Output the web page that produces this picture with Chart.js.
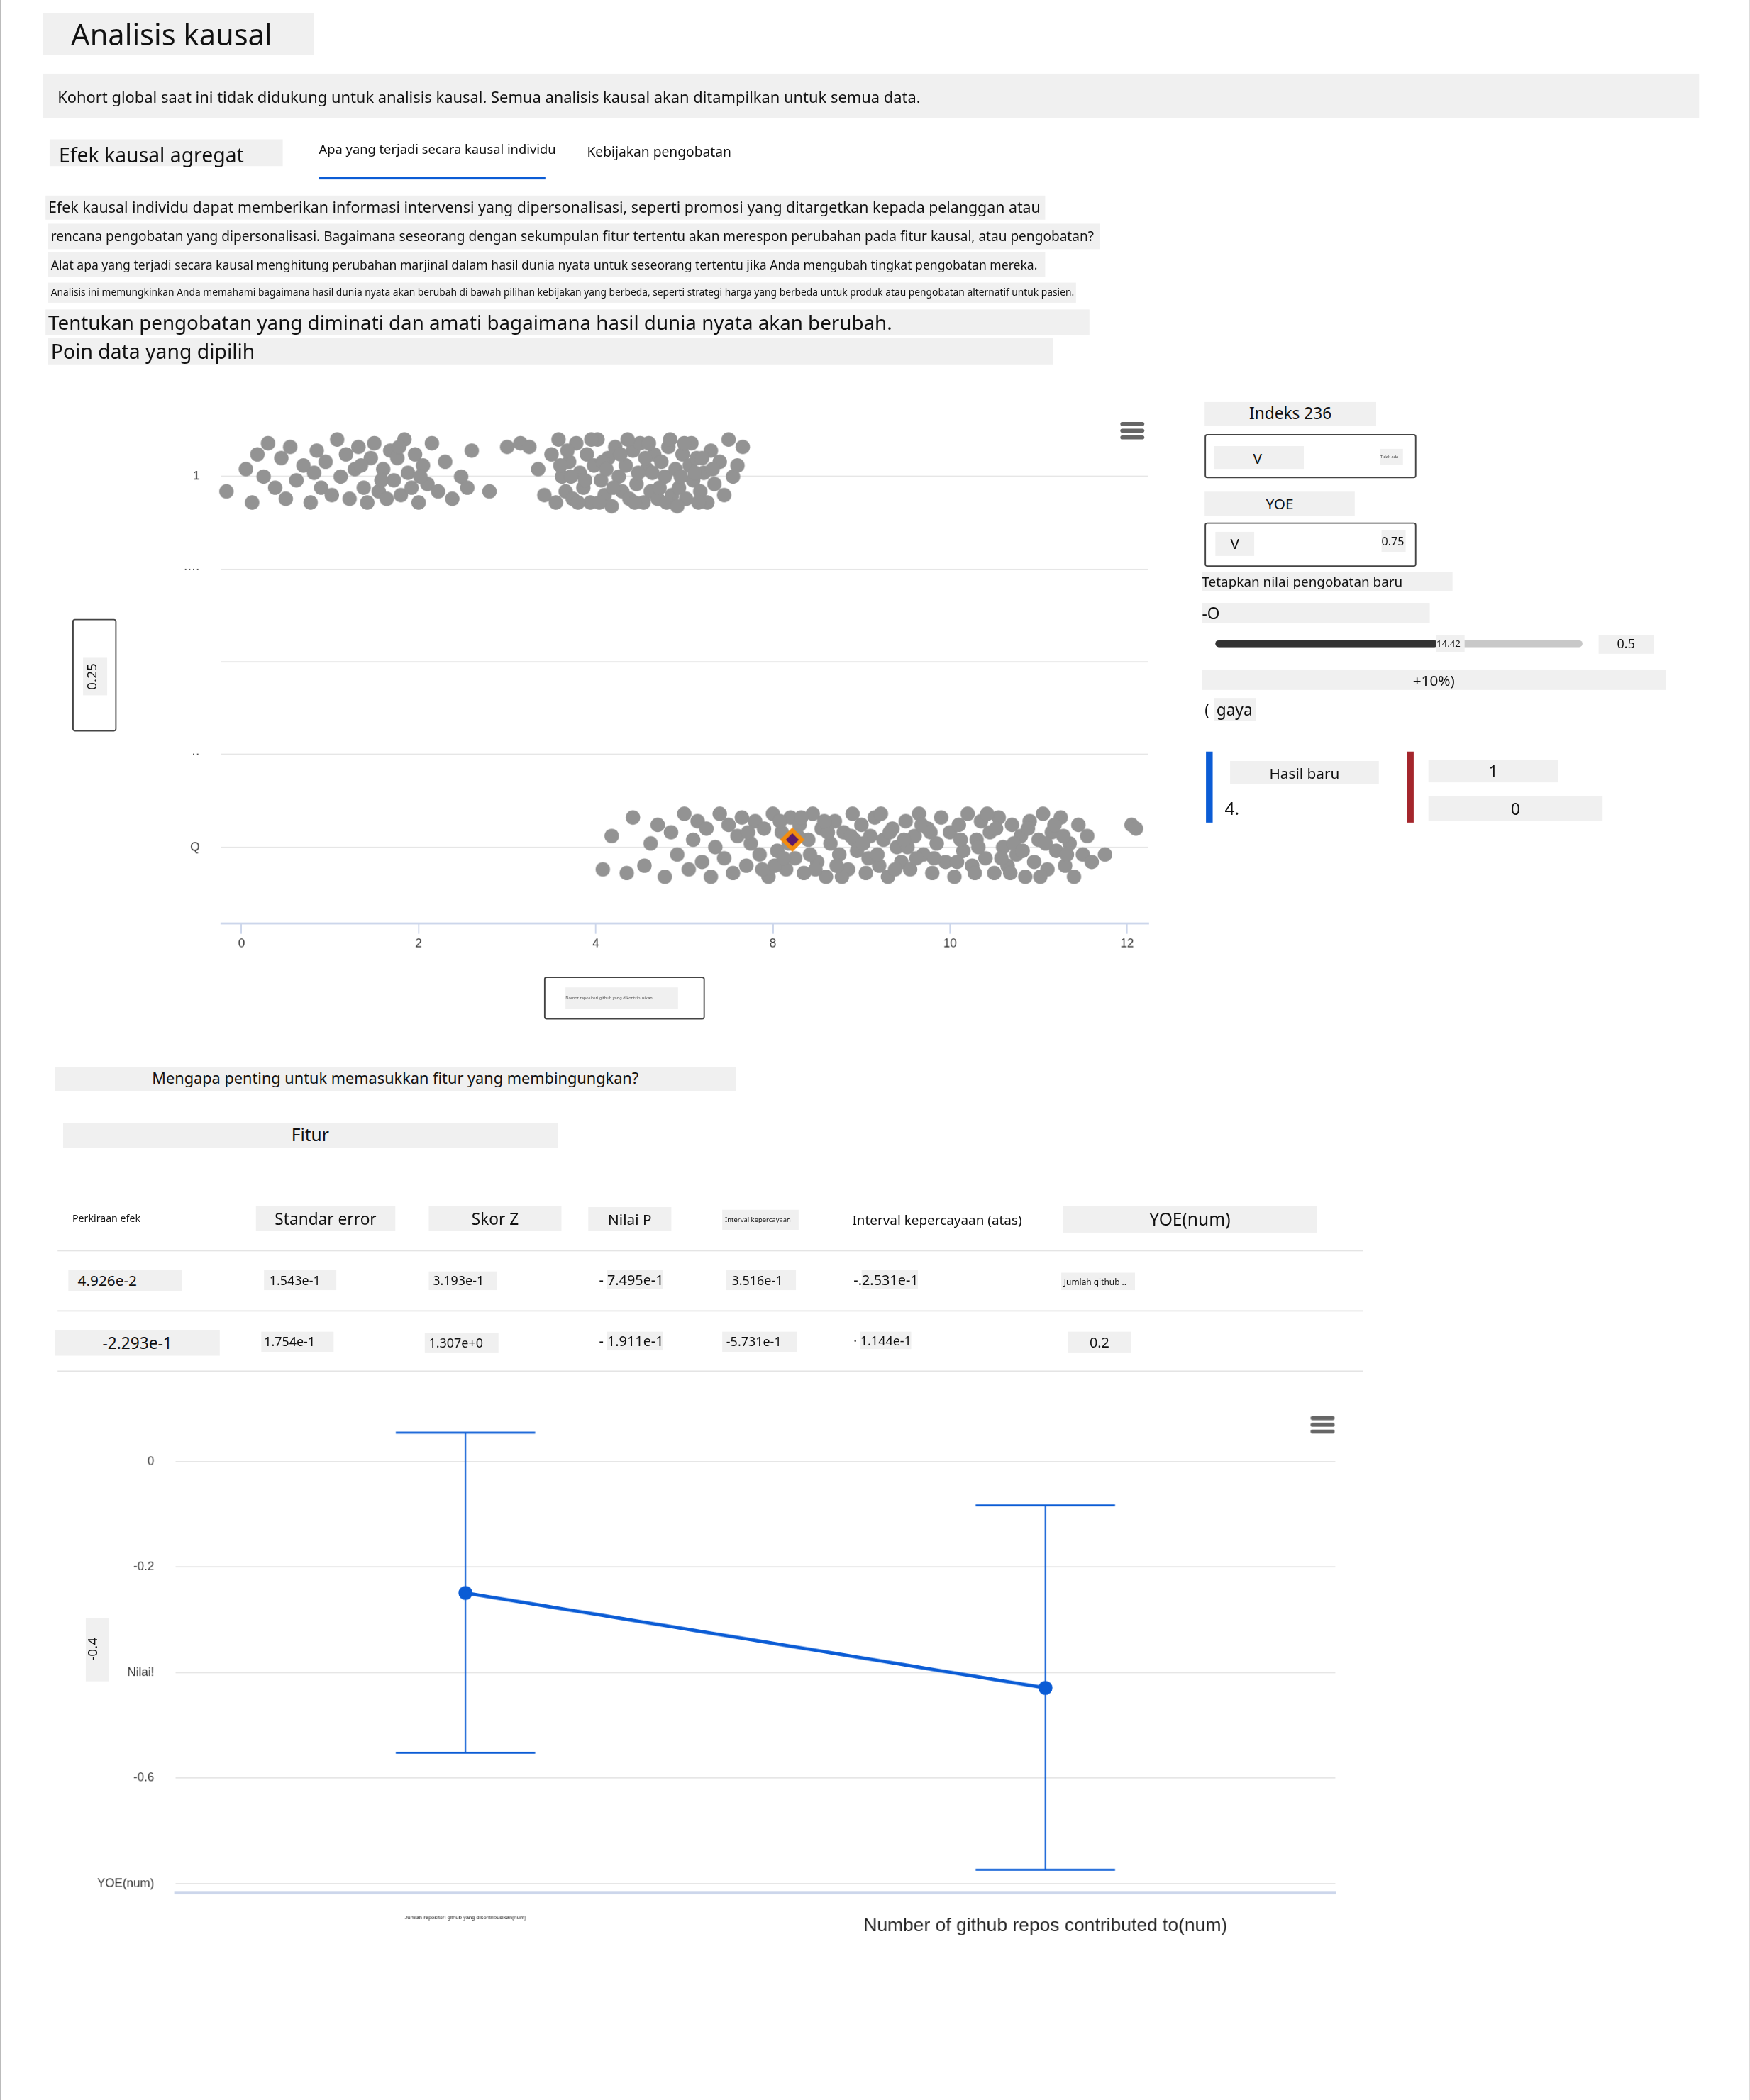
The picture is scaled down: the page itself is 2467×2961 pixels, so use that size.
<!DOCTYPE html>
<html><head><meta charset="utf-8">
<script src="https://cdn.jsdelivr.net/npm/chart.js@4/dist/chart.umd.min.js"></script>
<style>
html,body{margin:0;padding:0;background:#fff;}
body{width:2467px;height:2961px;overflow:hidden;font-family:"Noto Sans","Open Sans",sans-serif;color:#111;}
#page{position:absolute;left:0;top:0;width:1306px;height:1568px;transform:scale(1.889);transform-origin:0 0;border-left:1px solid #bbb;border-right:1px solid #ddd;box-sizing:border-box;}
.a{position:absolute;white-space:nowrap;}
.g{background:#f0f0f0;}
.c{text-align:center;}
.box{position:absolute;border:1.5px solid #444;border-radius:2px;box-sizing:border-box;}
.hb{position:absolute;width:18px;height:3px;background:#666;border-radius:2px;}
.line{position:absolute;height:1px;background:#e4e4e4;}
</style></head><body>
<div id="page">
  <div class="a g" style="left:31px;top:10px;width:202px;height:31px;font-size:22px;line-height:31px;padding-left:21px;box-sizing:border-box">Analisis kausal</div>
  <div class="a g" style="left:31px;top:55px;width:1236px;height:33px;font-size:11.6px;line-height:35px;padding-left:11px;box-sizing:border-box">Kohort global saat ini tidak didukung untuk analisis kausal. Semua analisis kausal akan ditampilkan untuk semua data.</div>

  <div class="a g" style="left:36px;top:104px;width:174px;height:20px;font-size:15px;line-height:22px;padding-left:7px;box-sizing:border-box">Efek kausal agregat</div>
  <div class="a" style="left:237px;top:105px;font-size:9.7px">Apa yang terjadi secara kausal individu</div>
  <div class="a" style="left:237px;top:132px;width:169px;height:2px;background:#0b5cd5"></div>
  <div class="a" style="left:437px;top:106px;font-size:10.2px">Kebijakan pengobatan</div>

  <div class="a g" style="left:33px;top:146px;width:744px;height:18px;font-size:11.3px;line-height:18px;padding-left:2px">Efek kausal individu dapat memberikan informasi intervensi yang dipersonalisasi, seperti promosi yang ditargetkan kepada pelanggan atau</div>
  <div class="a g" style="left:35px;top:167px;width:783px;height:19px;font-size:10.1px;line-height:19px;padding-left:2px">rencana pengobatan yang dipersonalisasi. Bagaimana seseorang dengan sekumpulan fitur tertentu akan merespon perubahan pada fitur kausal, atau pengobatan?</div>
  <div class="a g" style="left:35px;top:188px;width:742px;height:19px;font-size:9.3px;line-height:19px;padding-left:2px">Alat apa yang terjadi secara kausal menghitung perubahan marjinal dalam hasil dunia nyata untuk seseorang tertentu jika Anda mengubah tingkat pengobatan mereka.</div>
  <div class="a g" style="left:35px;top:211px;width:765px;height:15px;font-size:7.3px;line-height:15px;padding-left:2px">Analisis ini memungkinkan Anda memahami bagaimana hasil dunia nyata akan berubah di bawah pilihan kebijakan yang berbeda, seperti strategi harga yang berbeda untuk produk atau pengobatan alternatif untuk pasien.</div>
  <div class="a g" style="left:33px;top:231px;width:777px;height:19px;font-size:14.7px;line-height:19px;padding-left:2px">Tentukan pengobatan yang diminati dan amati bagaimana hasil dunia nyata akan berubah.</div>
  <div class="a g" style="left:35px;top:252px;width:748px;height:20px;font-size:15px;line-height:20px;padding-left:2px">Poin data yang dipilih</div>

  <!-- scatter -->
  <div class="a" style="left:100px;top:279px;width:766px;height:435px"><canvas id="scatter"></canvas></div>
  <div class="hb" style="left:835px;top:315px"></div><div class="hb" style="left:835px;top:320px"></div><div class="hb" style="left:835px;top:325px"></div>
  <div class="box" style="left:53px;top:462px;width:33px;height:84px"></div>
  <div class="a g" style="left:61px;top:491px;width:18px;height:28px"><div style="transform:rotate(-90deg);font-size:10px;position:absolute;left:-4px;top:7px">0.25</div></div>
  <div class="box" style="left:405px;top:729px;width:120px;height:32px"></div>
  <div class="a g" style="left:421px;top:737px;width:84px;height:16px;font-size:3px;line-height:16px;color:#555;overflow:hidden">Nomor repositori github yang dikontribusikan</div>

  <!-- right panel -->
  <div class="a g c" style="left:898px;top:300px;width:128px;height:18px;font-size:12px;line-height:18px">Indeks 236</div>
  <div class="box" style="left:898px;top:324px;width:158px;height:33px"></div>
  <div class="a g c" style="left:905px;top:333px;width:67px;height:17px;font-size:11px;line-height:17px;padding-right:2px;box-sizing:border-box">V</div>
  <div class="a g" style="left:1029px;top:335px;width:17px;height:12px;font-size:3px;line-height:12px;color:#444;overflow:hidden">Tidak ada</div>
  <div class="a g c" style="left:898px;top:367px;width:112px;height:18px;font-size:11px;line-height:18px">YOE</div>
  <div class="box" style="left:898px;top:390px;width:158px;height:33px"></div>
  <div class="a g c" style="left:906px;top:397px;width:29px;height:18px;font-size:11px;line-height:18px">V</div>
  <div class="a g" style="left:1030px;top:396px;width:18px;height:16px;font-size:8.5px;line-height:16px">0.75</div>
  <div class="a g" style="left:896px;top:427px;width:187px;height:14px;font-size:10px;line-height:14px">Tetapkan nilai pengobatan baru</div>
  <div class="a g" style="left:896px;top:450px;width:170px;height:15px;font-size:12px;line-height:15px">-O</div>
  <div class="a" style="left:906px;top:478px;width:274px;height:5px;background:#c8c8c8;border-radius:3px"></div>
  <div class="a" style="left:906px;top:478px;width:166px;height:5px;background:#333;border-radius:3px"></div>
  <div class="a g" style="left:1071px;top:474px;width:21px;height:13px;font-size:7px;line-height:13px">14.42</div>
  <div class="a g c" style="left:1192px;top:474px;width:41px;height:14px;font-size:9.5px;line-height:14px">0.5</div>
  <div class="a g c" style="left:896px;top:500px;width:346px;height:15px;font-size:11px;line-height:15px">+10%)</div>
  <div class="a" style="left:898px;top:522px;font-size:12px;line-height:16px">( <span class="g" style="padding:0 2px">gaya</span></div>
  <div class="a" style="left:899px;top:561px;width:5px;height:53px;background:#0b5cd5"></div>
  <div class="a g c" style="left:917px;top:568px;width:111px;height:17px;font-size:11px;line-height:17px">Hasil baru</div>
  <div class="a" style="left:913px;top:594px;font-size:13px">4.</div>
  <div class="a" style="left:1049px;top:561px;width:5px;height:53px;background:#a4262c"></div>
  <div class="a g c" style="left:1065px;top:567px;width:97px;height:17px;font-size:12px;line-height:17px">1</div>
  <div class="a g c" style="left:1065px;top:594px;width:130px;height:19px;font-size:12px;line-height:19px">0</div>

  <!-- table -->
  <div class="a g c" style="left:40px;top:796px;width:508px;height:18px;font-size:11.5px;line-height:18px">Mengapa penting untuk memasukkan fitur yang membingungkan?</div>
  <div class="a g c" style="left:46px;top:838px;width:369px;height:19px;font-size:13px;line-height:19px">Fitur</div>
  <div class="a" style="left:53px;top:904px;font-size:7.5px">Perkiraan efek</div>
  <div class="a g c" style="left:190px;top:900px;width:104px;height:19px;font-size:12px;line-height:19px">Standar error</div>
  <div class="a g c" style="left:319px;top:900px;width:99px;height:19px;font-size:12px;line-height:19px">Skor Z</div>
  <div class="a g c" style="left:438px;top:901px;width:62px;height:18px;font-size:11px;line-height:18px">Nilai P</div>
  <div class="a g" style="left:538px;top:903px;width:55px;height:15px;font-size:5px;line-height:15px;padding-left:2px">Interval kepercayaan</div>
  <div class="a" style="left:635px;top:903px;font-size:10px">Interval kepercayaan (atas)</div>
  <div class="a g c" style="left:792px;top:900px;width:190px;height:20px;font-size:13px;line-height:20px">YOE(num)</div>
  <div class="line" style="left:42px;top:933px;width:974px"></div>
  <div class="line" style="left:42px;top:978px;width:974px"></div>
  <div class="line" style="left:42px;top:1023px;width:974px"></div>

  <div class="a g" style="left:50px;top:948px;width:85px;height:16px;font-size:11px;line-height:16px;padding-left:7px;box-sizing:border-box">4.926e-2</div>
  <div class="a g" style="left:196px;top:948px;width:50px;height:15px;font-size:9.5px;line-height:15px;padding-left:4px">1.543e-1</div>
  <div class="a g" style="left:319px;top:949px;width:48px;height:14px;font-size:9.5px;line-height:14px;padding-left:3px">3.193e-1</div>
  <div class="a" style="left:446px;top:948px;font-size:10.5px">- <span class="g">7.495e-1</span></div>
  <div class="a g" style="left:541px;top:948px;width:48px;height:15px;font-size:9.5px;line-height:15px;padding-left:4px">3.516e-1</div>
  <div class="a" style="left:636px;top:948px;font-size:10.5px">-.<span class="g">2.531e-1</span></div>
  <div class="a g" style="left:791px;top:950px;width:53px;height:13px;font-size:6.3px;line-height:13px;padding-left:2px">Jumlah github ..</div>

  <div class="a g c" style="left:40px;top:993px;width:123px;height:19px;font-size:12px;line-height:19px">-2.293e-1</div>
  <div class="a g" style="left:194px;top:994px;width:52px;height:15px;font-size:9.5px;line-height:15px;padding-left:2px">1.754e-1</div>
  <div class="a g" style="left:316px;top:995px;width:52px;height:15px;font-size:9.5px;line-height:15px;padding-left:3px">1.307e+0</div>
  <div class="a" style="left:446px;top:994px;font-size:10.5px">- <span class="g">1.911e-1</span></div>
  <div class="a g" style="left:538px;top:994px;width:53px;height:15px;font-size:9.5px;line-height:15px;padding-left:3px">-5.731e-1</div>
  <div class="a" style="left:636px;top:994px;font-size:9.5px">· <span class="g">1.144e-1</span></div>
  <div class="a g c" style="left:796px;top:994px;width:47px;height:16px;font-size:10.5px;line-height:16px">0.2</div>

  <!-- error bar chart -->
  <div class="a" style="left:70px;top:1031px;width:932px;height:422px"><canvas id="effects"></canvas></div>
  <div class="hb" style="left:977px;top:1057px"></div><div class="hb" style="left:977px;top:1062px"></div><div class="hb" style="left:977px;top:1067px"></div>
  <div class="a g" style="left:63px;top:1208px;width:17px;height:47px"><div style="transform:rotate(-90deg);font-size:10px;position:absolute;left:-4px;top:16px">-0.4</div></div>
</div>
<script>
// ── SCATTER DATA (treatment value vs outcome) ─────────────
const topCluster = [
  [-0.17,0.96],[0.05,1.02],[0.12,0.93],[0.18,1.06],[0.25,1.0],[0.3,1.09],[0.38,0.97],[0.45,1.05],[0.5,0.94],[0.55,1.08],
  [0.62,0.99],[0.7,1.03],[0.78,0.93],[0.85,1.07],[0.9,0.97],[0.95,1.04],[1.02,0.95],[1.08,1.1],[1.12,1.0],[1.18,1.06],
  [1.22,0.94],[1.28,1.02],[1.32,1.08],[1.38,0.97],[1.42,0.93],[1.46,1.05],[1.5,1.09],[1.55,0.96],[1.6,1.02],[1.64,0.94],
  [1.68,1.07],[1.72,0.99],[1.76,1.05],[1.8,0.95],[1.84,1.1],[1.88,1.01],[1.92,0.97],[1.96,1.06],[2.0,0.93],[2.05,1.03],
  [2.1,0.98],[2.15,1.09],[2.22,0.96],[2.3,1.04],[2.38,0.94],[2.48,1.0],[2.55,0.97],[2.6,1.07],[2.8,0.96],[3.0,1.08],
  [3.15,1.09],[3.25,1.08],[3.35,1.02],[3.42,0.95],[3.5,1.06],[3.55,0.93],[3.58,1.1],[3.62,1.0],[3.66,0.96],[3.7,1.04],
  [3.74,0.94],[3.78,1.09],[3.82,1.01],[3.86,0.97],[3.9,1.06],[3.94,0.93],[3.98,1.03],[4.02,1.1],[4.06,0.99],[4.1,0.95],
  [4.14,1.05],[4.18,0.92],[4.22,1.08],[4.26,1.0],[4.3,0.96],[4.34,1.03],[4.38,0.94],[4.42,1.07],[4.46,0.98],[4.5,1.09],
  [4.54,0.93],[4.58,1.02],[4.62,0.96],[4.66,1.06],[4.7,0.94],[4.74,1.04],[4.78,1.0],[4.82,1.08],[4.86,0.95],[4.9,1.02],
  [4.94,0.97],[4.98,1.06],[5.02,0.94],[5.06,1.03],[5.1,0.99],[5.14,1.05],[5.18,0.96],[5.22,1.01],[5.26,0.93],[5.3,1.07],
  [5.34,0.98],[5.4,1.04],[5.45,0.95],[5.5,1.1],[5.55,1.0],[5.6,1.03],[5.66,1.08],[3.68,1.07],[3.8,0.93],[3.95,1.1],
  [4.08,1.04],[4.2,0.97],[4.36,1.1],[4.48,1.01],[4.6,1.09],[4.72,0.97],[4.84,1.1],[4.96,1.0],[5.08,1.09],[5.2,1.05],
  [3.72,1.0],[3.88,0.99],[4.04,0.93],[4.28,1.06],[4.44,0.93],[4.64,1.01],[4.8,0.93],[5.0,1.09],[5.16,0.93],[5.32,1.02],
  [1.35,1.03],[1.58,0.99],[1.78,1.08],[2.02,1.0],[0.82,1.01],[3.6,1.03],[4.12,1.02],[4.56,1.05],[4.92,0.92],[5.12,1.01]
];
const bottomCluster = [
  [4.08,-0.06],[4.18,0.03],[4.35,-0.07],[4.42,0.08],[4.55,-0.05],[4.62,0.01],[4.7,0.06],[4.78,-0.08],[4.85,0.04],[4.92,-0.02],
  [5.0,0.09],[5.05,-0.06],[5.1,0.02],[5.15,0.07],[5.2,-0.04],[5.25,0.05],[5.3,-0.08],[5.35,0.0],[5.4,0.09],[5.45,-0.03],
  [5.5,0.06],[5.55,-0.07],[5.6,0.03],[5.65,0.08],[5.7,-0.05],[5.75,0.01],[5.8,0.07],[5.85,-0.02],[5.9,0.05],[5.95,-0.08],
  [6.0,0.09],[6.05,-0.01],[6.1,0.04],[6.15,-0.06],[6.2,0.08],[6.25,-0.03],[6.3,0.06],[6.35,-0.07],[6.4,0.02],[6.45,0.09],
  [6.5,-0.04],[6.55,0.05],[6.6,-0.08],[6.65,0.01],[6.7,0.07],[6.75,-0.02],[6.8,0.04],[6.85,-0.06],[6.9,0.09],[6.95,-0.01],
  [7.0,0.06],[7.05,-0.07],[7.1,0.03],[7.15,0.08],[7.2,-0.05],[7.25,0.02],[7.3,-0.08],[7.35,0.05],[7.4,0.0],[7.45,-0.04],
  [7.5,0.07],[7.55,-0.06],[7.6,0.03],[7.65,0.09],[7.7,-0.02],[7.75,0.05],[7.8,-0.07],[7.85,0.01],[7.9,0.08],[7.95,-0.04],
  [8.0,0.04],[8.05,-0.08],[8.1,0.06],[8.15,-0.01],[8.2,0.09],[8.25,-0.05],[8.3,0.02],[8.35,0.07],[8.4,-0.03],[8.45,0.04],
  [8.5,-0.07],[8.55,0.08],[8.6,0.0],[8.65,-0.05],[8.7,0.06],[8.75,-0.02],[8.8,0.03],[8.85,-0.08],[8.9,0.07],[8.95,-0.04],
  [9.0,0.02],[9.05,0.09],[9.1,-0.06],[9.15,0.04],[9.2,-0.01],[9.25,0.08],[9.3,-0.05],[9.35,0.01],[9.4,-0.08],[9.5,-0.02],
  [9.55,0.03],[9.6,-0.04],[9.75,-0.02],[10.05,0.06],[10.1,0.05],[6.02,-0.05],[6.18,0.01],[6.32,0.08],[6.48,-0.06],[6.62,0.04],
  [6.78,-0.08],[6.92,0.02],[7.08,-0.03],[7.22,0.09],[7.38,-0.06],[7.52,0.0],[7.68,0.06],[7.82,-0.03],[8.12,0.02],[8.28,-0.07],
  [8.42,0.09],[8.58,-0.03],[8.72,0.01],[8.88,0.05],[9.02,-0.08],[9.18,0.06],[9.32,-0.02],[5.72,0.04],[5.88,-0.06],[6.08,0.07],
  [6.12,-0.03],[6.28,0.03],[6.42,-0.02],[6.58,0.07],[6.72,-0.05],[6.88,0.03],[7.02,0.01],[7.18,-0.02],[7.32,0.04],[7.48,0.02],
  [7.62,-0.03],[7.78,0.04],[8.08,-0.04],[8.32,0.0],[8.52,0.05],[8.68,-0.07],[8.82,-0.01],[9.08,0.01],[9.28,0.03],[9.45,0.06]
];
const selectedPoint = [[6.22, 0.02]];
const scatterYTicks = [0, 0.25, 0.5, 0.75, 1];
const scatterYLabels = ["Q", "··", "", "····", "1"];
const scatterXTicks = [0, 2, 4, 6, 8, 10];
const scatterXLabels = ["0", "2", "4", "8", "10", "12"];

// ── EFFECT ESTIMATES ──────────────────────────────────────
const featureNames = ["Jumlah repositori github yang dikontribusikan(num)", "Number of github repos contributed to(num)"];
const pointEstimates = [-0.249, -0.429];
const ciLower = [-0.552, -0.774];
const ciUpper = [0.055, -0.083];
const effectYTicks = [0, -0.2, -0.4, -0.6, -0.8];
const effectYLabels = ["0", "-0.2", "Nilai!", "-0.6", "YOE(num)"];

const toXY = arr => arr.map(p => ({ x: p[0], y: p[1] }));
const GRID = "#e6e6e6", AXIS = "#ccd6eb", BLUE = "#0b5cd5";

new Chart(document.getElementById("scatter"), {
  type: "scatter",
  data: {
    datasets: [
      { data: toXY(selectedPoint), pointStyle: "rectRot", radius: 7, backgroundColor: "#5c1a6b", borderColor: "#f28c0f", borderWidth: 3, order: 0 },
      { data: toXY(topCluster), radius: 5.4, backgroundColor: "#939393", borderWidth: 0, order: 1 },
      { data: toXY(bottomCluster), radius: 5.4, backgroundColor: "#939393", borderWidth: 0, order: 1 }
    ]
  },
  options: {
    responsive: true, maintainAspectRatio: false, animation: false, devicePixelRatio: 2,
    clip: false,
    plugins: { legend: { display: false }, tooltip: { enabled: false } },
    scales: {
      x: {
        min: -0.23, max: 10.24,
        afterBuildTicks: s => { s.ticks = scatterXTicks.map(v => ({ value: v })); },
        afterFit: s => { s.height = 25; },
        ticks: { color: "#333", font: { size: 9 }, padding: 2, callback: (v, i) => scatterXLabels[i] },
        grid: { drawOnChartArea: false, color: AXIS, tickLength: 8 },
        border: { color: AXIS, width: 1.5 }
      },
      y: {
        min: -0.205, max: 1.2,
        afterBuildTicks: s => { s.ticks = scatterYTicks.map(v => ({ value: v })); },
        afterFit: s => { s.width = 64; },
        ticks: { color: "#333", font: { size: 9 }, padding: 16, callback: (v, i) => scatterYLabels[i] },
        grid: { color: GRID, drawTicks: false },
        border: { display: false }
      }
    }
  }
});

// draws the confidence interval whiskers from ciLower / ciUpper
const errorBars = {
  id: "errorBars",
  afterDatasetsDraw(chart) {
    const { ctx, scales: { x, y } } = chart;
    ctx.save();
    ctx.strokeStyle = BLUE;
    pointEstimates.forEach((_, i) => {
      const px = x.getPixelForValue(i);
      const lo = y.getPixelForValue(ciLower[i]);
      const hi = y.getPixelForValue(ciUpper[i]);
      ctx.lineWidth = 1;
      ctx.beginPath(); ctx.moveTo(px, hi); ctx.lineTo(px, lo); ctx.stroke();
      ctx.lineWidth = 1.5;
      ctx.beginPath(); ctx.moveTo(px - 52, hi); ctx.lineTo(px + 52, hi);
      ctx.moveTo(px - 52, lo); ctx.lineTo(px + 52, lo); ctx.stroke();
    });
    ctx.restore();
  }
};

new Chart(document.getElementById("effects"), {
  type: "line",
  data: {
    labels: featureNames,
    datasets: [{ data: pointEstimates, borderColor: BLUE, backgroundColor: BLUE, borderWidth: 2.5, pointRadius: 4, tension: 0 }]
  },
  options: {
    responsive: true, maintainAspectRatio: false, animation: false, devicePixelRatio: 2,
    layout: { padding: { top: 10, right: 2 } },
    plugins: { legend: { display: false }, tooltip: { enabled: false } },
    scales: {
      x: {
        offset: true,
        afterFit: s => { s.height = 40; },
        ticks: {
          color: "#222", padding: 8, maxRotation: 0,
          font: c => (c.index === 0 ? { size: 4 } : { size: 14 })
        },
        grid: { display: false },
        border: { color: AXIS, width: 2 }
      },
      y: {
        min: -0.818, max: 0.098,
        afterBuildTicks: s => { s.ticks = effectYTicks.map(v => ({ value: v })); },
        afterFit: s => { s.width = 60; },
        ticks: { color: "#333", font: { size: 9 }, padding: 16, callback: (v, i) => effectYLabels[i] },
        grid: { color: GRID, drawTicks: false },
        border: { display: false }
      }
    }
  },
  plugins: [errorBars]
});
</script>
</body></html>
